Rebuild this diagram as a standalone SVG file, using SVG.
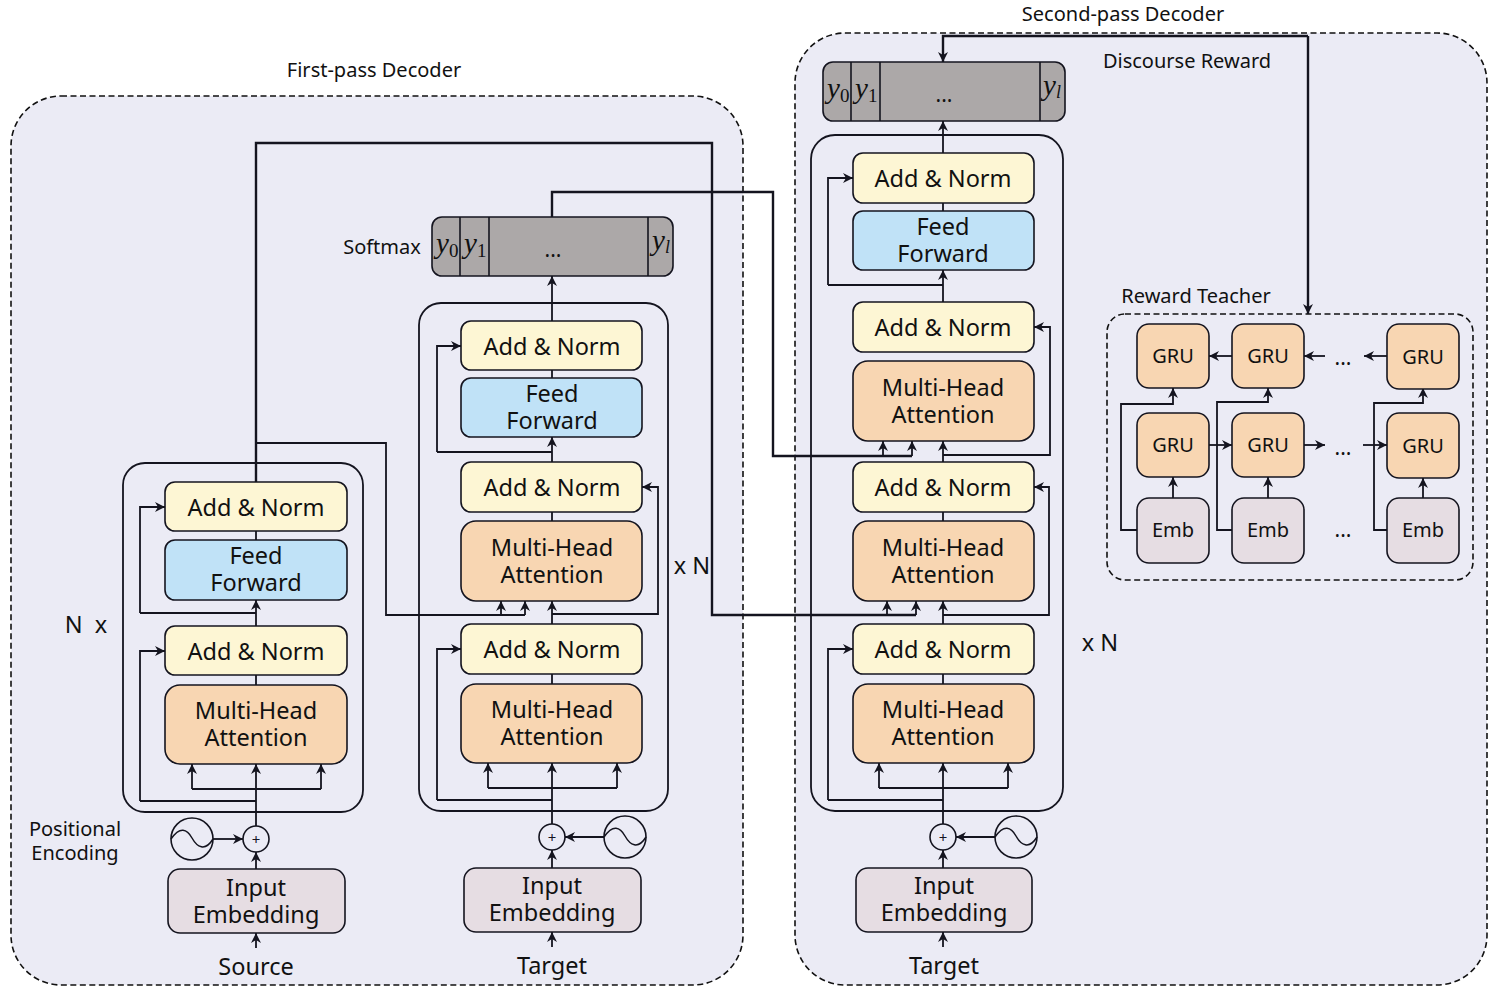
<svg xmlns="http://www.w3.org/2000/svg" width="1498" height="991" viewBox="0 0 1498 991">
<style>
text{font-family:"Noto Sans","Open Sans",sans-serif;fill:#111;text-anchor:middle}
.b{font-size:23.5px}
.l{font-size:20px}
.g{font-size:20px}
.s{font-size:23.5px}
.m{font-family:"Liberation Serif",serif;font-size:29px;font-style:italic;text-anchor:start}
.sub{font-size:19px;font-style:normal}
.subi{font-size:18px}
.d{font-size:21px}
.p{font-size:15px;fill:#14141f}
.panel{fill:#ebebf5;stroke:#111;stroke-width:1.6;stroke-dasharray:6 3.5}
.frame{fill:none;stroke:#14141f;stroke-width:1.8}
.box{stroke:#14141f;stroke-width:1.6}
.an{fill:#fdf6d4}.ff{fill:#c0e2f7}.mh{fill:#f8d6b2}.ie{fill:#e6dde3}.so{fill:#aca8a8}
.div{stroke:#14141f;stroke-width:1.6;fill:none}
.c{fill:none;stroke:#14141f;stroke-width:1.8}
.t{stroke-width:2.4}
.a{marker-end:url(#h)}
.wave{fill:none;stroke:#14141f;stroke-width:1.5}
.circ{fill:#ebebf5;stroke:#14141f;stroke-width:1.6}
</style>
<defs>
<marker id="h" markerUnits="userSpaceOnUse" markerWidth="12" markerHeight="12" refX="10" refY="5" orient="auto">
<path d="M0,0 L10,5 L0,10 L3,5 z" fill="#14141f"/>
</marker>
</defs>
<rect width="1498" height="991" fill="#fff"/>
<g id="panels">
<rect id="first-pass-panel" class="panel" x="11" y="96" width="732" height="889" rx="50"/>
<rect id="second-pass-panel" class="panel" x="795" y="33" width="692" height="952" rx="50"/>
<rect id="reward-teacher-panel" class="panel" x="1107" y="314" width="366" height="266" rx="18"/>
</g>
<g id="frames">
<rect class="frame" x="123" y="463" width="240" height="349" rx="22"/>
<rect class="frame" x="419" y="303" width="249" height="508" rx="22"/>
<rect class="frame" x="811" y="135" width="252" height="676" rx="24"/>
</g>
<g id="connectors">
<path class="c t" d="M256,482V143H712V615H916"/>
<path class="c a" d="M916,615V601"/><path class="c a" d="M887,615V601"/>
<path class="c" d="M256,443H386V615H525"/>
<path class="c a" d="M501,615V601"/><path class="c a" d="M525,615V601"/>
<path class="c t" d="M552,217V192H773V456H912"/>
<path class="c a" d="M883,456V441"/><path class="c a" d="M912,456V441"/>
<path class="c a" d="M256,626V600"/>
<path class="c" d="M256,531V540"/><path class="c" d="M256,675V685"/>
<path class="c a" d="M140,613V507H165"/><path class="c" d="M140,613H256"/>
<path class="c a" d="M140,801V651H165"/><path class="c" d="M140,801H256"/>
<path class="c a" d="M256,826V764"/>
<path class="c a" d="M192,789V764"/><path class="c a" d="M321,789V764"/><path class="c" d="M192,789H321"/>
<path class="c a" d="M213,839H243"/>
<path class="c a" d="M256,869V852"/>
<path class="c a" d="M256,948V933"/>
<path class="c a" d="M552,321V276"/>
<path class="c" d="M552,370V378"/>
<path class="c a" d="M552,462V437"/>
<path class="c a" d="M437,452V346H461"/><path class="c" d="M437,452H552"/>
<path class="c" d="M552,512V521"/>
<path class="c a" d="M552,624V601"/>
<path class="c a" d="M552,614H658V487H642"/>
<path class="c" d="M552,674V684"/>
<path class="c a" d="M437,800V649H461"/><path class="c" d="M437,800H552"/>
<path class="c a" d="M552,824V763"/>
<path class="c a" d="M488,788V763"/><path class="c a" d="M617,788V763"/><path class="c" d="M488,788H617"/>
<path class="c a" d="M604,837H565"/>
<path class="c a" d="M552,868V850"/>
<path class="c a" d="M552,947V932"/>
<path class="c a" d="M943,153V121"/>
<path class="c" d="M943,203V211"/>
<path class="c a" d="M943,302V270"/>
<path class="c a" d="M828,285V178H853"/><path class="c" d="M828,285H943"/>
<path class="c a" d="M943,462V441"/>
<path class="c a" d="M943,455H1050V327H1034"/>
<path class="c" d="M943,512V521"/>
<path class="c a" d="M943,624V601"/>
<path class="c a" d="M943,615H1049V487H1034"/>
<path class="c" d="M943,674V684"/>
<path class="c a" d="M828,800V649H853"/><path class="c" d="M828,800H943"/>
<path class="c a" d="M943,824V763"/>
<path class="c a" d="M879,788V763"/><path class="c a" d="M1008,788V763"/><path class="c" d="M879,788H1008"/>
<path class="c a" d="M995,837H956"/>
<path class="c a" d="M943,868V850"/>
<path class="c a" d="M943,947V932"/>
<path class="c t a" d="M1308,36H943V62"/>
<path class="c t a" d="M1308,36V314"/>
<path class="c a" d="M1232,356H1209"/><path class="c a" d="M1325,356H1304"/><path class="c a" d="M1387,356H1364"/>
<path class="c a" d="M1209,445H1232"/><path class="c a" d="M1304,445H1325"/><path class="c a" d="M1363,445H1387"/>
<path class="c a" d="M1173,498V477"/><path class="c a" d="M1268,498V477"/><path class="c a" d="M1423,498V478"/>
<path class="c a" d="M1137,530H1121V404H1173V388"/>
<path class="c a" d="M1232,530H1217V402H1268V388"/>
<path class="c a" d="M1387,530H1374V403H1423V388"/>
</g>
<g id="source-encoder">
<g id="enc-add-norm-2"><rect class="box an" x="165" y="482" width="182" height="49" rx="10"/><text class="b" x="256" y="516">Add &amp; Norm</text></g>
<g id="enc-feed-forward"><rect class="box ff" x="165" y="540" width="182" height="60" rx="10"/><text class="b" x="256" y="564">Feed<tspan x="256" dy="27">Forward</tspan></text></g>
<g id="enc-add-norm-1"><rect class="box an" x="165" y="626" width="182" height="49" rx="10"/><text class="b" x="256" y="660">Add &amp; Norm</text></g>
<g id="enc-attention"><rect class="box mh" x="165" y="685" width="182" height="79" rx="15"/><text class="b" x="256" y="719">Multi-Head<tspan x="256" dy="27">Attention</tspan></text></g>
<g id="enc-plus"><circle class="circ" cx="256" cy="839" r="13"/><text class="p" x="256" y="845">+</text></g>
<g id="enc-wave"><circle class="circ" cx="192" cy="839" r="21"/><path class="wave" d="M171,839C180,826 187,829 192,838S205,852 213,839"/></g>
<g id="enc-input"><rect class="box ie" x="168" y="869" width="177" height="64" rx="12"/><text class="b" x="256" y="896">Input<tspan x="256" dy="27">Embedding</tspan></text></g>
</g>
<g id="first-decoder">
<g id="softmax-1"><rect class="box so" x="432" y="217" width="241" height="59" rx="10"/><path class="div" d="M460,217V276M489,217V276M648,217V276"/>
<text class="m" x="436" y="253">y<tspan class="sub" dy="4">0</tspan></text><text class="m" x="464" y="253">y<tspan class="sub" dy="4">1</tspan></text><text class="m" x="652" y="250">y<tspan class="subi" dy="3">l</tspan></text><text class="d" x="553" y="257">...</text></g>
<g id="d1-add-norm-3"><rect class="box an" x="461" y="321" width="181" height="49" rx="10"/><text class="b" x="552" y="355">Add &amp; Norm</text></g>
<g id="d1-feed-forward"><rect class="box ff" x="461" y="378" width="181" height="59" rx="10"/><text class="b" x="552" y="402">Feed<tspan x="552" dy="27">Forward</tspan></text></g>
<g id="d1-add-norm-2"><rect class="box an" x="461" y="462" width="181" height="50" rx="10"/><text class="b" x="552" y="496">Add &amp; Norm</text></g>
<g id="d1-attention-2"><rect class="box mh" x="461" y="521" width="181" height="80" rx="15"/><text class="b" x="552" y="556">Multi-Head<tspan x="552" dy="27">Attention</tspan></text></g>
<g id="d1-add-norm-1"><rect class="box an" x="461" y="624" width="181" height="50" rx="10"/><text class="b" x="552" y="658">Add &amp; Norm</text></g>
<g id="d1-attention-1"><rect class="box mh" x="461" y="684" width="181" height="79" rx="15"/><text class="b" x="552" y="718">Multi-Head<tspan x="552" dy="27">Attention</tspan></text></g>
<g id="d1-plus"><circle class="circ" cx="552" cy="837" r="13"/><text class="p" x="552" y="843">+</text></g>
<g id="d1-wave"><circle class="circ" cx="625" cy="837" r="21"/><path class="wave" d="M604,837C613,824 620,827 625,836S638,850 646,837"/></g>
<g id="d1-input"><rect class="box ie" x="464" y="868" width="177" height="64" rx="12"/><text class="b" x="552" y="894">Input<tspan x="552" dy="27">Embedding</tspan></text></g>
</g>
<g id="second-decoder">
<g id="softmax-2"><rect class="box so" x="823" y="62" width="242" height="59" rx="10"/><path class="div" d="M851,62V121M880,62V121M1040,62V121"/>
<text class="m" x="827" y="98">y<tspan class="sub" dy="4">0</tspan></text><text class="m" x="855" y="98">y<tspan class="sub" dy="4">1</tspan></text><text class="m" x="1043" y="95">y<tspan class="subi" dy="3">l</tspan></text><text class="d" x="944" y="102">...</text></g>
<g id="d2-add-norm-4"><rect class="box an" x="853" y="153" width="181" height="50" rx="10"/><text class="b" x="943" y="187">Add &amp; Norm</text></g>
<g id="d2-feed-forward"><rect class="box ff" x="853" y="211" width="181" height="59" rx="10"/><text class="b" x="943" y="235">Feed<tspan x="943" dy="27">Forward</tspan></text></g>
<g id="d2-add-norm-3"><rect class="box an" x="853" y="302" width="181" height="50" rx="10"/><text class="b" x="943" y="336">Add &amp; Norm</text></g>
<g id="d2-attention-3"><rect class="box mh" x="853" y="361" width="181" height="80" rx="15"/><text class="b" x="943" y="396">Multi-Head<tspan x="943" dy="27">Attention</tspan></text></g>
<g id="d2-add-norm-2"><rect class="box an" x="853" y="462" width="181" height="50" rx="10"/><text class="b" x="943" y="496">Add &amp; Norm</text></g>
<g id="d2-attention-2"><rect class="box mh" x="853" y="521" width="181" height="80" rx="15"/><text class="b" x="943" y="556">Multi-Head<tspan x="943" dy="27">Attention</tspan></text></g>
<g id="d2-add-norm-1"><rect class="box an" x="853" y="624" width="181" height="50" rx="10"/><text class="b" x="943" y="658">Add &amp; Norm</text></g>
<g id="d2-attention-1"><rect class="box mh" x="853" y="684" width="181" height="79" rx="15"/><text class="b" x="943" y="718">Multi-Head<tspan x="943" dy="27">Attention</tspan></text></g>
<g id="d2-plus"><circle class="circ" cx="943" cy="837" r="13"/><text class="p" x="943" y="843">+</text></g>
<g id="d2-wave"><circle class="circ" cx="1016" cy="837" r="21"/><path class="wave" d="M995,837C1004,824 1011,827 1016,836S1029,850 1037,837"/></g>
<g id="d2-input"><rect class="box ie" x="856" y="868" width="176" height="64" rx="12"/><text class="b" x="944" y="894">Input<tspan x="944" dy="27">Embedding</tspan></text></g>
</g>
<g id="reward-teacher">
<g id="gru-t1"><rect class="box mh" x="1137" y="324" width="72" height="64" rx="12"/><text class="g" x="1173" y="363">GRU</text></g>
<g id="gru-t2"><rect class="box mh" x="1232" y="324" width="72" height="64" rx="12"/><text class="g" x="1268" y="363">GRU</text></g>
<g id="gru-t3"><rect class="box mh" x="1387" y="324" width="72" height="65" rx="12"/><text class="g" x="1423" y="364">GRU</text></g>
<g id="gru-b1"><rect class="box mh" x="1137" y="413" width="72" height="64" rx="12"/><text class="g" x="1173" y="452">GRU</text></g>
<g id="gru-b2"><rect class="box mh" x="1232" y="413" width="72" height="64" rx="12"/><text class="g" x="1268" y="452">GRU</text></g>
<g id="gru-b3"><rect class="box mh" x="1387" y="413" width="72" height="65" rx="12"/><text class="g" x="1423" y="453">GRU</text></g>
<g id="emb-1"><rect class="box ie" x="1137" y="498" width="72" height="65" rx="12"/><text class="g" x="1173" y="537">Emb</text></g>
<g id="emb-2"><rect class="box ie" x="1232" y="498" width="72" height="65" rx="12"/><text class="g" x="1268" y="537">Emb</text></g>
<g id="emb-3"><rect class="box ie" x="1387" y="498" width="72" height="65" rx="12"/><text class="g" x="1423" y="537">Emb</text></g>
</g>
<g id="labels">
<text class="l" x="374" y="77">First-pass Decoder</text>
<text class="l" x="1123" y="21">Second-pass Decoder</text>
<text class="l" x="1187" y="68">Discourse Reward</text>
<text class="l" x="1196" y="303">Reward Teacher</text>
<text class="l" x="382" y="254">Softmax</text>
<text class="l" x="75" y="836">Positional<tspan x="75" dy="24">Encoding</tspan></text>
<text class="s" x="86" y="633" xml:space="preserve">N  x</text>
<text class="s" x="692" y="574">x N</text>
<text class="s" x="1100" y="651">x N</text>
<text class="s" x="256" y="975">Source</text>
<text class="s" x="552" y="974">Target</text>
<text class="s" x="944" y="974">Target</text>
<text class="d" x="1343" y="365">...</text>
<text class="d" x="1343" y="455">...</text>
<text class="d" x="1343" y="537">...</text>
</g>
</svg>
